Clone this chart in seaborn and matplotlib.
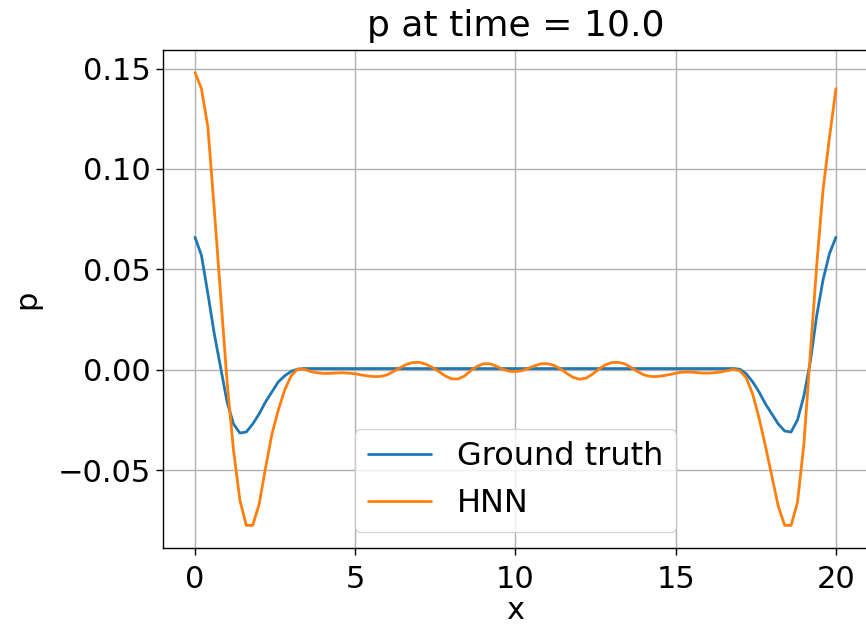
import matplotlib
matplotlib.use("Agg")
import matplotlib.pyplot as plt
import seaborn as sns
import pandas as pd

# ---- data ----
truth_x = [0.0, 0.2, 0.4, 0.6, 0.8, 1.0, 1.2, 1.4, 1.6, 1.8, 2.0, 2.2, 2.4, 2.6, 2.8,
           3.0, 3.2, 3.4,
           16.6, 16.8, 17.0, 17.2, 17.4, 17.6, 17.8, 18.0, 18.2, 18.4, 18.6, 18.8,
           19.0, 19.2, 19.4, 19.6, 19.8, 20.0]
truth_p = [0.066, 0.057, 0.038, 0.018, 0.001, -0.016, -0.027, -0.0315, -0.031, -0.027,
           -0.022, -0.016, -0.011, -0.006, -0.003, -0.0008, 0.0003, 0.0006,
           0.0006, 0.0006, 0.0003, -0.002, -0.006, -0.011, -0.017, -0.022, -0.027,
           -0.0305, -0.031, -0.025, -0.013, 0.004, 0.027, 0.045, 0.058, 0.066]

hnn_x = [0.0, 0.2, 0.4, 0.6, 0.8, 1.0, 1.2, 1.4, 1.6, 1.8,
         2.0, 2.2, 2.4, 2.6, 2.8, 3.0, 3.2, 3.4, 3.6, 3.8,
         4.0, 4.2, 4.4, 4.6, 4.8, 5.0, 5.2, 5.4, 5.6, 5.8,
         6.0, 6.2, 6.4, 6.6, 6.8, 7.0, 7.2, 7.4, 7.6, 7.8,
         8.0, 8.2, 8.4, 8.6, 8.8, 9.0, 9.2, 9.4, 9.6, 9.8,
         10.0, 10.2, 10.4, 10.6, 10.8, 11.0, 11.2, 11.4, 11.6, 11.8,
         12.0, 12.2, 12.4, 12.6, 12.8, 13.0, 13.2, 13.4, 13.6, 13.8,
         14.0, 14.2, 14.4, 14.6, 14.8, 15.0, 15.2, 15.4, 15.6, 15.8,
         16.0, 16.2, 16.4, 16.6, 16.8, 17.0, 17.2, 17.4, 17.6, 17.8,
         18.0, 18.2, 18.4, 18.6, 18.8, 19.0, 19.2, 19.4, 19.6, 19.8,
         20.0]
hnn_p = [0.148, 0.140, 0.121, 0.080, 0.037, -0.006, -0.040, -0.065, -0.0775, -0.0775,
         -0.067, -0.049, -0.032, -0.020, -0.010, -0.003, 0.0003, 0.0003, -0.0008, -0.0015,
         -0.0018, -0.0018, -0.0016, -0.0015, -0.0017, -0.002, -0.0026, -0.0031, -0.0034, -0.0033,
         -0.0025, -0.0008, 0.001, 0.0027, 0.0036, 0.0037, 0.0028, 0.0012, -0.0008, -0.003,
         -0.0045, -0.0046, -0.0032, -0.0005, 0.0017, 0.003, 0.003, 0.0018, 0.0003, -0.0007,
         -0.0009, -0.0005, 0.0007, 0.002, 0.003, 0.003, 0.0022, 0.0005, -0.0018, -0.0038,
         -0.0047, -0.0042, -0.0022, 0.0003, 0.0024, 0.0036, 0.0037, 0.003, 0.0012, -0.0008,
         -0.0025, -0.0033, -0.0034, -0.0030, -0.0024, -0.0017, -0.0012, -0.0011, -0.0013, -0.0016,
         -0.0017, -0.0015, -0.0011, -0.0005, 0.0002, -0.0005, -0.004, -0.012, -0.024, -0.038,
         -0.053, -0.068, -0.0775, -0.0775, -0.066, -0.037, 0.008, 0.052, 0.090, 0.116,
         0.140]

series_names = ["Ground truth", "HNN"]
series_colors = ["#1f77b4", "#ff7f0e"]
title_text = "p at time = 10.0"
x_ticks = [0, 5, 10, 15, 20]
y_ticks = [-0.05, 0.00, 0.05, 0.10, 0.15]

assert len(truth_x) == len(truth_p)
assert len(hnn_x) == len(hnn_p)

df = pd.concat([
    pd.DataFrame({"x": truth_x, "p": truth_p, "series": series_names[0]}),
    pd.DataFrame({"x": hnn_x, "p": hnn_p, "series": series_names[1]}),
], ignore_index=True)

sns.set_style("ticks")
plt.rcParams["font.family"] = ["DejaVu Sans"]
plt.rcParams["font.size"] = 22
plt.rcParams["text.color"] = "black"
plt.rcParams["axes.labelcolor"] = "black"
plt.rcParams["xtick.color"] = "black"
plt.rcParams["ytick.color"] = "black"

fig = plt.figure(figsize=(8.66, 6.32), dpi=100)
ax = fig.add_axes([0.1882, 0.1329, 0.8141, 0.788])

sns.lineplot(data=df, x="x", y="p", hue="series", hue_order=series_names,
             palette=series_colors, linewidth=2.0, ax=ax, sort=False,
             estimator=None)

ax.set_xticks(x_ticks)
ax.set_yticks(y_ticks)
ax.set_yticklabels([f"{v:.2f}".replace("-", "\u2212") for v in y_ticks])
ax.grid(True, color="#b0b0b0", linewidth=1.0)
ax.set_axisbelow(True)
for s in ax.spines.values():
    s.set_color("black")
    s.set_linewidth(1.0)
ax.tick_params(axis="both", labelsize=22, direction="out", length=5, width=1,
               color="black", labelcolor="black")
ax.tick_params(axis="x", pad=7)

ax.set_xlabel("x", fontsize=22, labelpad=2, color="black")
ax.set_ylabel("p", fontsize=22, labelpad=12, color="black")
ax.set_title(title_text, fontsize=26, pad=10, color="black")

leg = ax.legend(loc="lower center", fontsize=23, frameon=True)
leg.get_frame().set_edgecolor("#cccccc")
for t in leg.get_texts():
    t.set_color("black")

fig.savefig("out.png", dpi=100)
